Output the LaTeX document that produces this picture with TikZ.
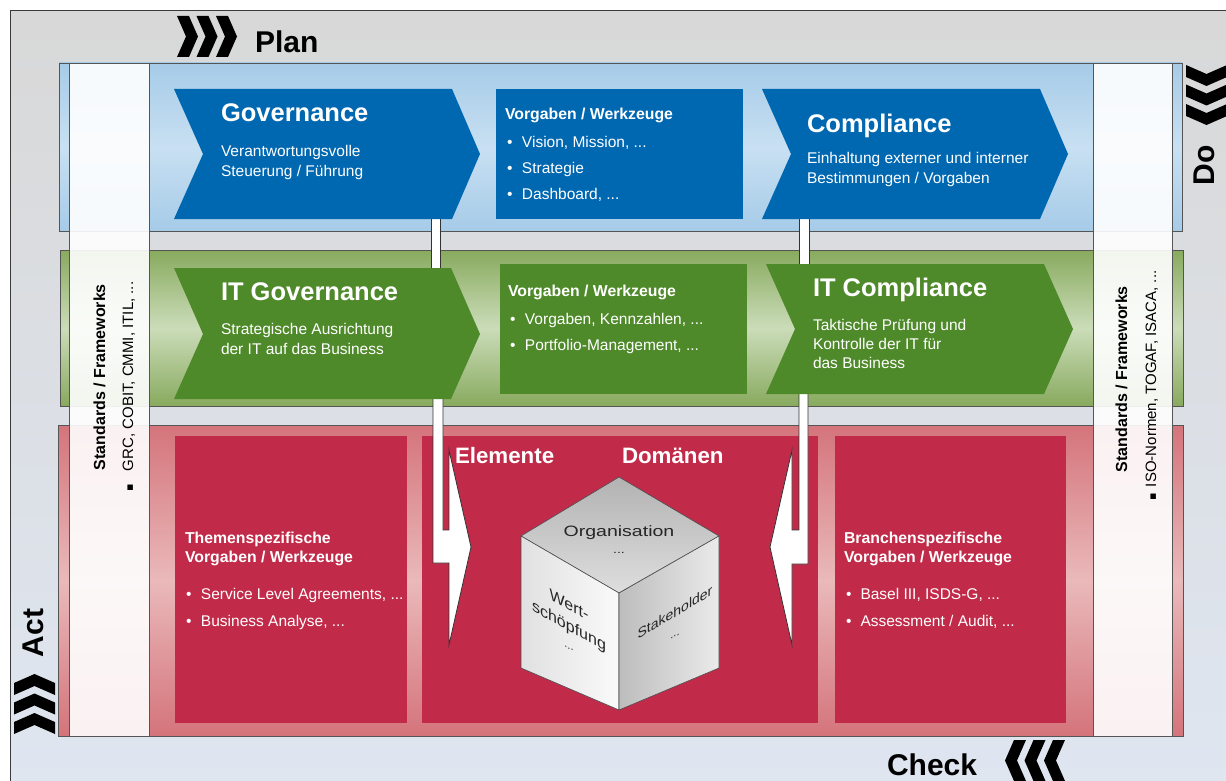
\documentclass[tikz,border=0pt]{standalone}
\usepackage{fontspec}
\setmainfont{Liberation Sans}
\newfontfamily\djv{DejaVu Sans}
\definecolor{bgtop}{HTML}{D8D8D8}
\definecolor{bgbot}{HTML}{DFE6F1}
\definecolor{frame}{HTML}{3A3A3A}
\definecolor{bandline}{HTML}{555555}
\definecolor{blueE}{HTML}{A6CBE8}
\definecolor{blueM}{HTML}{C8E0F2}
\definecolor{blueD}{HTML}{0067B1}
\definecolor{greenE}{HTML}{88AA5E}
\definecolor{greenM}{HTML}{CBDCB9}
\definecolor{greenD}{HTML}{4F8A2A}
\definecolor{redE}{HTML}{D4747B}
\definecolor{redM}{HTML}{EAB9BA}
\definecolor{redD}{HTML}{C22A49}
\newcommand{\bul}{\makebox[15pt][l]{•}}
\newcommand{\sqbul}[1]{\makebox[#1][l]{\djv\fontsize{11}{13}\selectfont ▪}}
\begin{document}
\begin{tikzpicture}[x=1pt,y=-1pt,
  lbl/.style={inner sep=0pt, outer sep=0pt, anchor=base west},
  ttl/.style={lbl, text=white, font=\fontsize{25.5}{30}\selectfont\bfseries},
  bdy/.style={lbl, text=white, font=\fontsize{15.5}{19}\selectfont},
  hd/.style={lbl, text=white, font=\fontsize{15.8}{19}\selectfont\bfseries},
  big/.style={lbl, text=black, font=\fontsize{30}{36}\selectfont\bfseries},
  side/.style={lbl, text=black, rotate=90, font=\fontsize{15}{19}\selectfont},
  cube/.style={inner sep=0pt, text=black!85, font=\fontsize{15}{18}\selectfont},
  bandbox/.style={draw=bandline, line width=0.8pt},
  column/.style={fill=white, fill opacity=0.9, draw=bandline, line width=0.8pt},
  bar/.style={fill=white, draw=black!80, line width=0.8pt, line join=miter},
  face/.style={draw=black!70, line width=0.6pt, line join=round},
  chev/.style={fill=black}
]
\useasboundingbox (0,0) rectangle (1226,781);
\clip (0,0) rectangle (1226,781);
\fill[white] (0,0) rectangle (1226,781);
% outer frame
\path[top color=bgtop, bottom color=bgbot, draw=frame, line width=1pt] (10,11) rectangle (1240,795);

% bands
\path[bandbox, top color=blueE, bottom color=blueE, middle color=blueM] (59,63) rectangle (1182,231);
\path[bandbox, top color=greenE, bottom color=greenE, middle color=greenM] (60,250) rectangle (1183,406);
\path[bandbox, top color=redE, bottom color=redE, middle color=redM] (58,425) rectangle (1183,736);

% side columns
\path[column] (69,63) rectangle (149,736);
\path[column] (1093,63) rectangle (1172,736);

% red inner boxes
\fill[redD] (175,436) rectangle (407,723);
\fill[redD] (422,436) rectangle (818,723);
\fill[redD] (835,436) rectangle (1066,723);

% connectors
\coordinate (c1a) at (431,214); \coordinate (c1b) at (440,272);
\coordinate (c2a) at (799,214); \coordinate (c2b) at (809,268);
\draw[bar] (c1a) rectangle (c1b);
\draw[bar] (c2a) rectangle (c2b);
\coordinate (la) at (433,392);
\draw[bar] (la) -- (443,392) -- (443,530) -- (449,530) -- (449,450) -- (471,547) -- (449,645) -- (449,563) -- (433,563) -- cycle;
\coordinate (ra) at (808,388);
\draw[bar] (ra) -- (799,388) -- (799,530) -- (792,530) -- (792,450) -- (770,547) -- (792,645) -- (792,564) -- (808,564) -- cycle;

% blue row
\fill[blueD] (174,89) -- (452,89) -- (480,154) -- (452,219) -- (174,219) -- (203,154) -- cycle;
\fill[blueD] (496,89) rectangle (743,219);
\fill[blueD] (762,89) -- (1040,89) -- (1068,154) -- (1040,219) -- (762,219) -- (791,154) -- cycle;
% green row
\fill[greenD] (174,268) -- (451,268) -- (480,334) -- (451,399) -- (174,399) -- (203,334) -- cycle;
\fill[greenD] (500,264) rectangle (747,394);
\fill[greenD] (766,264) -- (1044,264) -- (1073,329) -- (1044,394) -- (766,394) -- (795,329) -- cycle;

% PDCA chevrons
\foreach \i in {0,1,2} {
  \pgfmathsetmacro{\xo}{177+19.5*\i}
  \fill[chev] (\xo,16) -- ++(12,0) -- ++(9,20.5) -- ++(-9,20.5) -- ++(-12,0) -- ++(9,-20.5) -- cycle;
  \pgfmathsetmacro{\yo}{65+19.5*\i}
  \fill[chev] (1186,\yo) -- (1186,\yo+12) -- (1206.5,\yo+21) -- (1227,\yo+12) -- (1227,\yo) -- (1206.5,\yo+9) -- cycle;
  \pgfmathsetmacro{\ya}{674+19.5*\i}
  \fill[chev] (14,\ya+21) -- (14,\ya+9) -- (34.5,\ya) -- (55,\ya+9) -- (55,\ya+21) -- (34.5,\ya+12) -- cycle;
  \pgfmathsetmacro{\xc}{1005+19.5*\i}
  \fill[chev] (\xc+21,740) -- (\xc+9,740) -- (\xc,760.5) -- (\xc+9,781) -- (\xc+21,781) -- (\xc+12,760.5) -- cycle;
}
\node[big] (plan) at (255,53) {Plan};
\node[big] (check) at (887,775) {Check};
\node[big, rotate=90] (do) at (1214,185) {Do};
\node[big, rotate=90] (act) at (43,657) {Act};

% blue texts
\node[ttl] (gov) at (221,122) {Governance};
\node[bdy] (gov1) at (221,157) {Verantwortungsvolle};
\node[bdy] (gov2) at (221,176) {Steuerung / Führung};
\node[hd] (vw1) at (505,119.5) {Vorgaben / Werkzeuge};
\node[bdy] (vw1i1) at (507,147.5) {\bul Vision, Mission, ...};
\node[bdy] (vw1i2) at (507,173.5) {\bul Strategie};
\node[bdy] (vw1i3) at (507,199.5) {\bul Dashboard, ...};
\node[ttl] (comp) at (807,132) {Compliance};
\node[bdy] (comp1) at (807,163.5) {Einhaltung externer und interner};
\node[bdy] (comp2) at (807,183.5) {Bestimmungen / Vorgaben};

% green texts
\node[ttl] (itgov) at (221,300) {IT Governance};
\node[bdy] (itgov1) at (221,334.5) {Strategische Ausrichtung};
\node[bdy] (itgov2) at (221,354.5) {der IT auf das Business};
\node[hd] (vw2) at (508,296) {Vorgaben / Werkzeuge};
\node[bdy] (vw2i1) at (510,324) {\bul Vorgaben, Kennzahlen, ...};
\node[bdy] (vw2i2) at (510,350) {\bul Portfolio-Management, ...};
\node[ttl] (itcomp) at (813,296) {IT Compliance};
\node[bdy] (itcomp1) at (813,330.5) {Taktische Prüfung und};
\node[bdy] (itcomp2) at (813,349.5) {Kontrolle der IT für};
\node[bdy] (itcomp3) at (813,368.5) {das Business};

% red texts
\node[hd] (th1) at (185,543) {Themenspezifische};
\node[hd] (th2) at (185,562.5) {Vorgaben / Werkzeuge};
\node[bdy] (thi1) at (186,599.5) {\bul Service Level Agreements, ...};
\node[bdy] (thi2) at (186,626.5) {\bul Business Analyse, ...};
\node[hd] (br1) at (844,543) {Branchenspezifische};
\node[hd] (br2) at (844,562.5) {Vorgaben / Werkzeuge};
\node[bdy] (bri1) at (846,599.5) {\makebox[14.5pt][l]{•}Basel III, ISDS-G, ...};
\node[bdy] (bri2) at (846,626.5) {\makebox[14.5pt][l]{•}Assessment / Audit, ...};
\node[lbl, text=white, font=\fontsize{22.3}{26}\selectfont\bfseries] (elem) at (455,463) {Elemente};
\node[lbl, text=white, font=\fontsize{22.3}{26}\selectfont\bfseries] (dom) at (622,463) {Domänen};

% cube
\coordinate (T) at (619,477); \coordinate (L) at (521,536); \coordinate (R) at (719,536);
\coordinate (C) at (619,593); \coordinate (BL) at (521,668); \coordinate (B) at (619,710);
\coordinate (BR) at (719,668);
\path[face, top color=black!30, bottom color=black!13] (T) -- (R) -- (C) -- (L) -- cycle;
\path[face, left color=black!12, right color=black!2] (L) -- (C) -- (B) -- (BL) -- cycle;
\path[face, left color=black!26, right color=black!8] (C) -- (R) -- (BR) -- (B) -- cycle;
\node[cube, align=center, xscale=1.3, font=\fontsize{15}{21}\selectfont] (org) at (619,540) {Organisation\\[-4pt]{\fontsize{11}{12}\selectfont ...}};
\node[cube, align=center, yslant=-0.55, font=\fontsize{16}{21}\selectfont] (wert) at (569,624) {Wert-\\schöpfung\\[-3pt]{\fontsize{11}{12}\selectfont ...}};
\node[cube, align=center, yslant=0.6, font=\fontsize{14}{26}\selectfont] (stake) at (675,622) {Stakeholder\\[-6pt]{\fontsize{11}{12}\selectfont ...}};

% side texts
\node[side, font=\fontsize{16}{19}\selectfont\bfseries] (sl1) at (105,470) {Standards / Frameworks};
\node[side] (sl2) at (133,491) {\sqbul{20pt}GRC, COBIT, CMMI, ITIL, ...};
\node[side, font=\fontsize{16}{19}\selectfont\bfseries] (sr1) at (1127,472) {Standards / Frameworks};
\node[side] (sr2) at (1156,500) {\sqbul{13pt}ISO-Normen, TOGAF, ISACA, ...};
\end{tikzpicture}
\end{document}
